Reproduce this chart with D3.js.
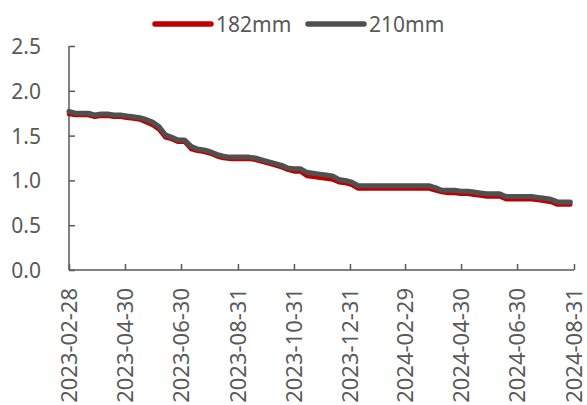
<!DOCTYPE html>
<html>
<head>
<meta charset="utf-8">
<script src="https://cdn.jsdelivr.net/npm/d3@7/dist/d3.min.js"></script>
<style>
  html, body { margin: 0; padding: 0; background: #fff; }
  svg { display: block; font-family: "Noto Sans", "Open Sans", sans-serif; }
</style>
</head>
<body>
<svg id="chart" width="587" height="405"></svg>
<script>
// Weekly observation dates
const dates = [
  "2023-02-28","2023-03-07","2023-03-14","2023-03-21","2023-03-28",
  "2023-04-04","2023-04-11","2023-04-18","2023-04-25",
  "2023-05-02","2023-05-09","2023-05-16","2023-05-23","2023-05-30",
  "2023-06-06","2023-06-13","2023-06-20","2023-06-27",
  "2023-07-04","2023-07-11","2023-07-18","2023-07-25",
  "2023-08-01","2023-08-08","2023-08-15","2023-08-22","2023-08-29",
  "2023-09-05","2023-09-12","2023-09-19","2023-09-26",
  "2023-10-03","2023-10-10","2023-10-17","2023-10-24","2023-10-31",
  "2023-11-07","2023-11-14","2023-11-21","2023-11-28",
  "2023-12-05","2023-12-12","2023-12-19","2023-12-26",
  "2024-01-02","2024-01-09","2024-01-16","2024-01-23","2024-01-30",
  "2024-02-06","2024-02-13","2024-02-20","2024-02-27",
  "2024-03-05","2024-03-12","2024-03-19","2024-03-26",
  "2024-04-02","2024-04-09","2024-04-16","2024-04-23","2024-04-30",
  "2024-05-07","2024-05-14","2024-05-21","2024-05-28",
  "2024-06-04","2024-06-11","2024-06-18","2024-06-25",
  "2024-07-02","2024-07-09","2024-07-16","2024-07-23","2024-07-30",
  "2024-08-06","2024-08-13","2024-08-20","2024-08-27"
];

// 182mm series
const values182 = [
  1.74,1.73,1.73,1.73,1.71,1.72,1.72,1.71,1.71,1.70,1.69,1.68,1.65,1.62,1.57,1.48,
  1.46,1.43,1.43,1.35,1.33,1.32,1.30,1.27,1.25,1.24,1.24,1.24,1.24,1.23,1.21,1.19,
  1.17,1.15,1.12,1.10,1.10,1.05,1.04,1.03,1.02,1.01,0.98,0.97,0.95,0.91,
  0.91,0.91,0.91,0.91,0.91,0.91,0.91,0.91,0.91,0.91,0.91,
  0.89,0.87,0.86,0.86,0.85,0.85,0.84,0.83,0.82,0.82,0.82,0.79,0.79,0.79,0.79,0.79,
  0.78,0.77,0.76,0.73,0.73,0.73
];

// 210mm series
const values210 = [
  1.77,1.75,1.75,1.75,1.73,1.74,1.74,1.73,1.73,1.72,1.71,1.70,1.68,1.65,1.60,1.51,
  1.48,1.45,1.45,1.38,1.35,1.34,1.32,1.29,1.27,1.26,1.26,1.26,1.26,1.25,1.23,1.21,
  1.19,1.17,1.14,1.13,1.13,1.09,1.08,1.07,1.06,1.05,1.01,1.00,0.98,0.94,
  0.94,0.94,0.94,0.94,0.94,0.94,0.94,0.94,0.94,0.94,0.94,
  0.92,0.89,0.89,0.89,0.88,0.88,0.87,0.86,0.85,0.85,0.85,0.82,0.82,0.82,0.82,0.82,
  0.81,0.80,0.79,0.76,0.76,0.76
];

// Axis tick labels
const xTickLabels = [
  "2023-02-28","2023-04-30","2023-06-30","2023-08-31","2023-10-31",
  "2023-12-31","2024-02-29","2024-04-30","2024-06-30","2024-08-31"
];
const yTicks = [0, 0.5, 1.0, 1.5, 2.0, 2.5];

const seriesNames = ["182mm", "210mm"];
const seriesColors = ["#c00000", "#505050"];

const parse = d3.utcParse("%Y-%m-%d");
const svg = d3.select("#chart");
const axisColor = "#595959";
const textColor = "#595959";

const x = d3.scaleUtc()
  .domain([parse(xTickLabels[0]), parse(xTickLabels[xTickLabels.length - 1])])
  .range([69, 574]);
const y = d3.scaleLinear().domain([0, 2.5]).range([270, 46]);

// Y axis
const yAxis = svg.append("g")
  .attr("transform", "translate(69,0)")
  .call(d3.axisRight(y).tickValues(yTicks).tickSize(6).tickFormat(d3.format(".1f")));
yAxis.select(".domain").attr("stroke", axisColor).attr("stroke-width", 1.5)
  .attr("d", "M0,46V270");
yAxis.selectAll(".tick line").attr("stroke", axisColor).attr("stroke-width", 1.5);
yAxis.selectAll(".tick text")
  .attr("x", -28).attr("text-anchor", "end").attr("dy", "0.36em")
  .attr("fill", textColor).style("font-size", "21px")
  .style("font-family", "'Noto Sans', sans-serif");

// X axis
const xAxis = svg.append("g")
  .attr("transform", "translate(0,270)")
  .call(d3.axisTop(x).tickValues(xTickLabels.map(parse)).tickSize(6)
    .tickFormat(d3.utcFormat("%Y-%m-%d")));
xAxis.select(".domain").attr("stroke", axisColor).attr("stroke-width", 1.5)
  .attr("d", "M69,0H574");
xAxis.selectAll(".tick line").attr("stroke", axisColor).attr("stroke-width", 1.5);
xAxis.selectAll(".tick text")
  .attr("transform", "rotate(-90)")
  .attr("x", -18).attr("y", 0).attr("dy", "0.36em")
  .attr("text-anchor", "end")
  .attr("fill", textColor).style("font-size", "22px")
  .style("font-family", "'Noto Sans', sans-serif");

// Lines
const line = d3.line()
  .x((d, i) => x(parse(dates[i])))
  .y(d => y(d));

svg.append("path")
  .attr("d", line(values182))
  .attr("fill", "none").attr("stroke", seriesColors[0])
  .attr("stroke-width", 4.5).attr("stroke-linejoin", "round").attr("stroke-linecap", "round");

svg.append("path")
  .attr("d", line(values210))
  .attr("fill", "none").attr("stroke", seriesColors[1])
  .attr("stroke-width", 5).attr("stroke-linejoin", "round").attr("stroke-linecap", "round");

// Legend
const legendX = [155, 308];
const legend = svg.append("g");
seriesNames.forEach((name, i) => {
  legend.append("line")
    .attr("x1", legendX[i]).attr("x2", legendX[i] + 56)
    .attr("y1", 24).attr("y2", 24)
    .attr("stroke", seriesColors[i]).attr("stroke-width", 5.5)
    .attr("stroke-linecap", "round");
  legend.append("text")
    .attr("x", legendX[i] + 61).attr("y", 24).attr("dy", "0.36em")
    .attr("fill", textColor).style("font-size", "21px")
    .text(name);
});
</script>
</body>
</html>
